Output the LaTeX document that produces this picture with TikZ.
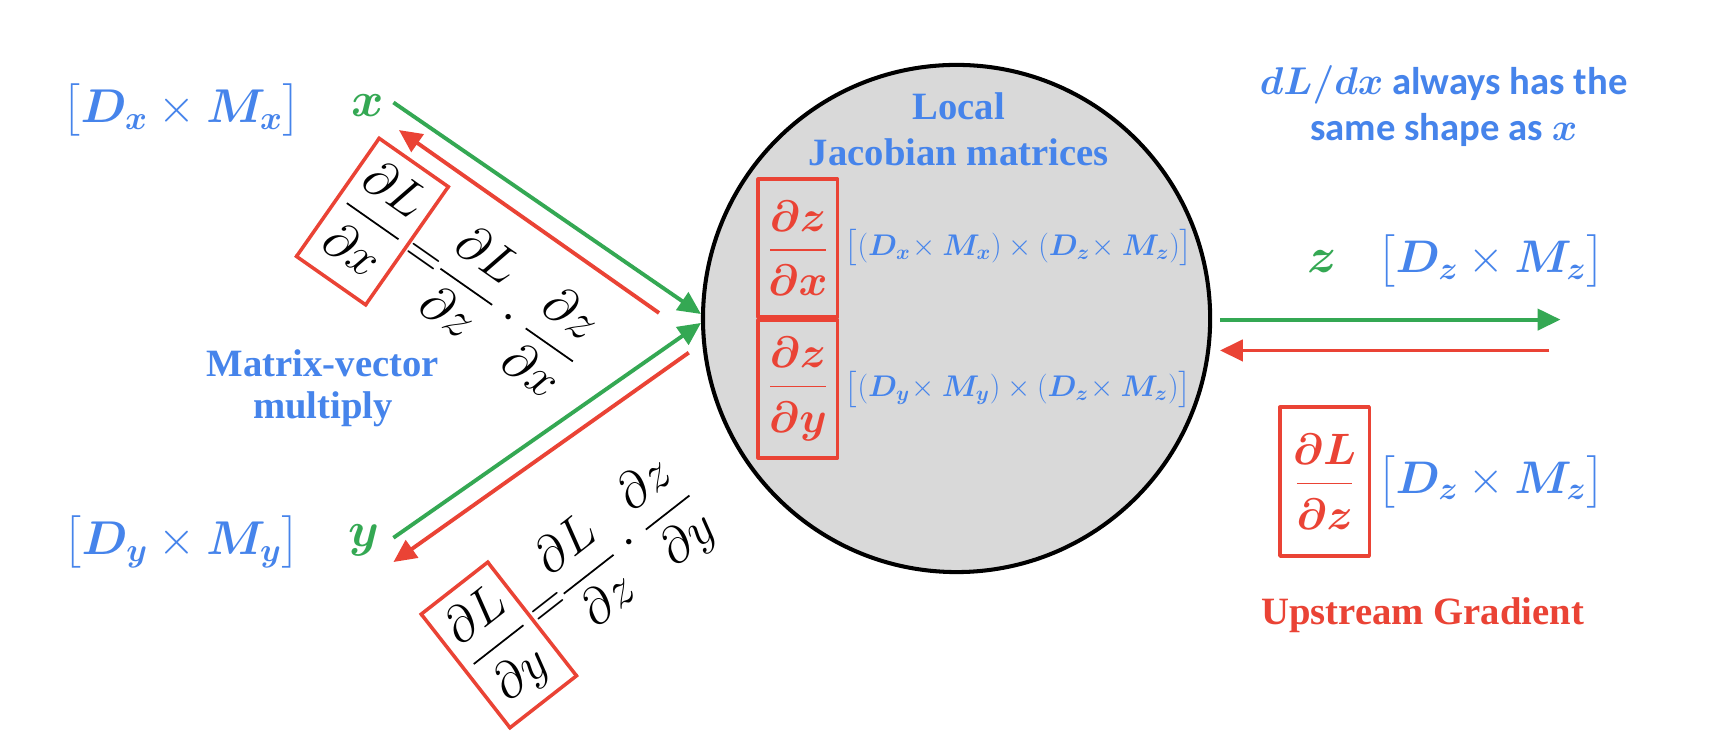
\RequirePackage{fix-cm}
\documentclass[tikz,border=0pt]{standalone}
\usepackage{amsmath}
\usepackage{bm}
\usepackage{fontspec}
\setmainfont{Liberation Serif}
\newfontfamily\calfont{Carlito}
\usetikzlibrary{arrows.meta}
\definecolor{cblue}{RGB}{70,132,235}
\definecolor{cgreen}{RGB}{52,168,83}
\definecolor{cred}{RGB}{234,67,53}
\definecolor{cgray}{RGB}{217,217,217}
\newcommand{\dimlab}[1]{\bigl[\bm{D}_{\bm{#1}}\times\bm{M}_{\bm{#1}}\bigr]}
\newcommand{\jrow}[1]{\bigl[(\bm{D}_{\bm{#1}}\!\times\bm{M}_{\bm{#1}})\times(\bm{D}_{\bm{z}}\!\times\bm{M}_{\bm{z}})\bigr]}
\newcommand{\tallfrac}[2]{\displaystyle\frac{#1\rule[-0.18em]{0pt}{0pt}}{\rule{0pt}{0.9em}#2}}
\newcommand{\widefrac}[2]{\displaystyle\frac{\makebox[1.26em]{$\displaystyle#1$}\rule[-0.18em]{0pt}{0pt}}{\rule{0pt}{0.9em}\makebox[1.26em]{$\displaystyle#2$}}}
\newcommand{\redbox}[1]{{\color{cred}\fboxrule=2pt\fboxsep=0pt\fbox{\color{black}\makebox[46pt]{\rule[-33pt]{0pt}{80pt}$#1$}}}}
\begin{document}
\begin{tikzpicture}[x=0.02204cm, y=-0.02204cm, line join=round,
  gline/.style={draw=cgreen, line width=2.2pt, -{Triangle[length=13pt,width=12pt]}},
  rline/.style={draw=cred, line width=2.2pt, -{Triangle[length=13pt,width=12pt]}},
  rbox/.style={draw=cred, line width=2pt, inner sep=0pt},
  bluelbl/.style={text=cblue, font=\fontsize{22}{26}\selectfont\bfseries, align=center},
  mathlbl/.style={text=cblue, font=\fontsize{27}{32}\selectfont, inner sep=0pt},
  rowlbl/.style={text=cblue, font=\fontsize{17}{20}\selectfont, inner sep=1pt},
  varlbl/.style={text=cgreen, font=\fontsize{28}{32}\selectfont, inner sep=0pt},
  fmla/.style={font=\fontsize{29}{34}\selectfont, inner sep=0pt},
  redfrac/.style={rbox, text=cred, font=\fontsize{25}{30}\selectfont}
]
\fill[white] (0,0) rectangle (1568,684);
\useasboundingbox (0,0) rectangle (1568,684);

% central operation node
\node[circle, draw=black, fill=cgray, line width=2.3pt, minimum size=10.14cm, inner sep=0pt] (op) at (868,289) {};
\node[bluelbl] (loc) at (870,117) {Local\\Jacobian matrices};
\node[redfrac, minimum width=1.587cm, minimum height=2.755cm] (jx) at (724,225)
  {$\widefrac{\bm{\partial z}}{\bm{\partial x}}$};
\node[redfrac, minimum width=1.587cm, minimum height=2.755cm] (jy) at (724,353)
  {$\widefrac{\bm{\partial z}}{\bm{\partial y}}$};
\node[rowlbl, anchor=west] (rx) at ([xshift=2pt]jx.east) {$\jrow{x}$};
\node[rowlbl, anchor=west] (ry) at ([xshift=2pt]jy.east) {$\jrow{y}$};

% left labels
\node[mathlbl] (dx) at (165,100) {$\dimlab{x}$};
\node[varlbl] (vx) at (334,96) {$\bm{x}$};
\node[mathlbl] (dy) at (165,492) {$\dimlab{y}$};
\node[varlbl] (vy) at (330,490) {$\bm{y}$};
\node[bluelbl, font=\fontsize{22}{24}\selectfont\bfseries] (mv) at (293,352) {Matrix-vector\\multiply};

% connector end points
\coordinate (xs) at (357,93);
\coordinate (xr) at (598,284);
\coordinate (xrt) at (362,118);
\coordinate (ys) at (357,488);
\coordinate (yr) at (625,320);
\coordinate (yrt) at (357,510);
\coordinate (zs) at (1107,290);
\coordinate (zt) at (1416,290);
\coordinate (zr) at (1406,318);
\coordinate (zrt) at (1107,318);

\draw[gline] (xs) -- (op.179);
\draw[gline] (ys) -- (op.181);
\draw[rline] (xr) -- (xrt);
\draw[rline] (yr) -- (yrt);
\draw[gline] (zs) -- (zt);
\draw[rline] (zr) -- (zrt);

% rotated chain-rule formulas
\node[fmla, rotate=-35, anchor=west] (fx) at (305,178)
  {\redbox{\tallfrac{\partial L}{\partial x}}$\displaystyle{=}\frac{\partial L}{\partial z}\cdot\frac{\partial z}{\partial x}$};
\node[fmla, rotate=38, anchor=west] (fy) at (421,610)
  {\redbox{\tallfrac{\partial L}{\partial y}}$\displaystyle{=}\frac{\partial L}{\partial z}\cdot\frac{\partial z}{\partial y}$};

% right side
\node[bluelbl, font=\fontsize{22}{26}\selectfont\calfont\bfseries] (note) at (1310,96)
  {$\bm{dL/dx}$ always has the\\same shape as $\bm{x}$};
\node[varlbl] (vz) at (1200,237) {$\bm{z}$};
\node[mathlbl, font=\fontsize{26}{30}\selectfont] (dz) at (1353,237) {$\dimlab{z}$};
\node[redfrac, minimum width=1.785cm, minimum height=2.975cm] (gz) at (1202,437)
  {$\widefrac{\bm{\partial L}}{\bm{\partial z}}$};
\node[mathlbl, font=\fontsize{26}{30}\selectfont] (dz2) at (1353,437) {$\dimlab{z}$};
\node[bluelbl, text=cred] (up) at (1291,558) {Upstream Gradient};
\end{tikzpicture}
\end{document}
